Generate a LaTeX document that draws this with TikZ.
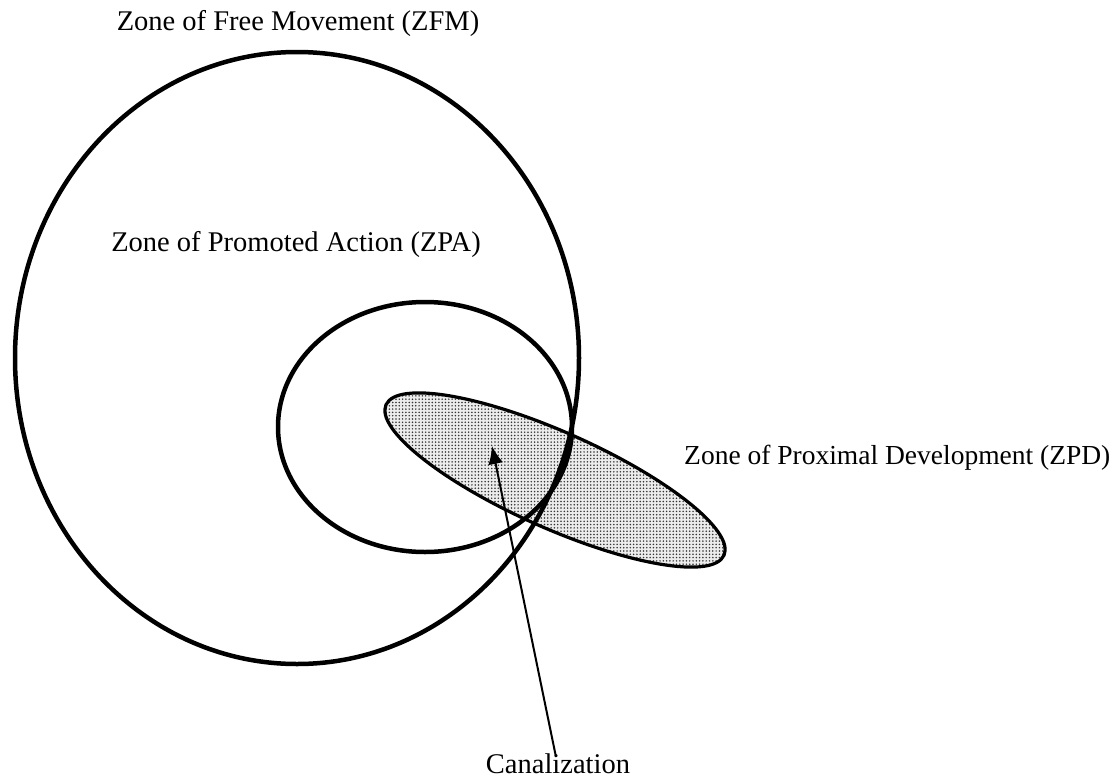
\documentclass[tikz,border=0pt]{standalone}
\usepackage{fontspec}
\setmainfont{Liberation Serif}
\usetikzlibrary{patterns,arrows.meta}
% fine screen of round dots for the shaded zone
\pgfdeclarepatternformonly{zpddots}{\pgfqpoint{-1pt}{-1pt}}{\pgfqpoint{1pt}{1pt}}{\pgfqpoint{3.3pt}{3.3pt}}{%
  \pgfpathcircle{\pgfqpoint{0pt}{0pt}}{0.85pt}\pgfusepath{fill}}
\begin{document}
\begin{tikzpicture}[x=1pt,y=-1pt,
  zone/.style={line width=4.5pt},
  zpd/.style={line width=3.2pt},
  lbl/.style={font=\fontsize{28.5}{32}\selectfont, inner sep=0pt, anchor=base},
  pointer/.style={line width=2pt, -{Latex[length=18pt,width=15pt]}},
  ]
\useasboundingbox (0,0) rectangle (1120,782);

% Zone of Proximal Development: dotted, tilted ellipse
\coordinate (zpdc) at (555,480);
\fill[gray!15, rotate around={-24:(zpdc)}] (zpdc) ellipse [x radius=185, y radius=48];
\fill[pattern=zpddots, pattern color=black!80, rotate around={-24:(zpdc)}] (zpdc) ellipse [x radius=185, y radius=48];
\draw[zpd, rotate around={-24:(zpdc)}] (zpdc) ellipse [x radius=185, y radius=48];

% Zone of Free Movement and Zone of Promoted Action
\draw[zone] (297,358) ellipse [x radius=282, y radius=306];
\draw[zone] (425,427) ellipse [x radius=147, y radius=125];

% labels
\node[lbl] (zfm) at (298,30) {Zone of Free Movement (ZFM)};
\node[lbl] (zpa) at (296,251) {Zone of Promoted Action (ZPA)};
\node[lbl, anchor=base west, font=\fontsize{27.5}{32}\selectfont] (zpdl) at (684,464) {Zone of Proximal Development (ZPD)};
\node[lbl] (can) at (558,773) {Canalization};

% canalization pointer
\coordinate (cantip) at (492,446);
\draw[pointer] ([xshift=-2pt,yshift=-4pt]can.north) -- (cantip);
\end{tikzpicture}
\end{document}
